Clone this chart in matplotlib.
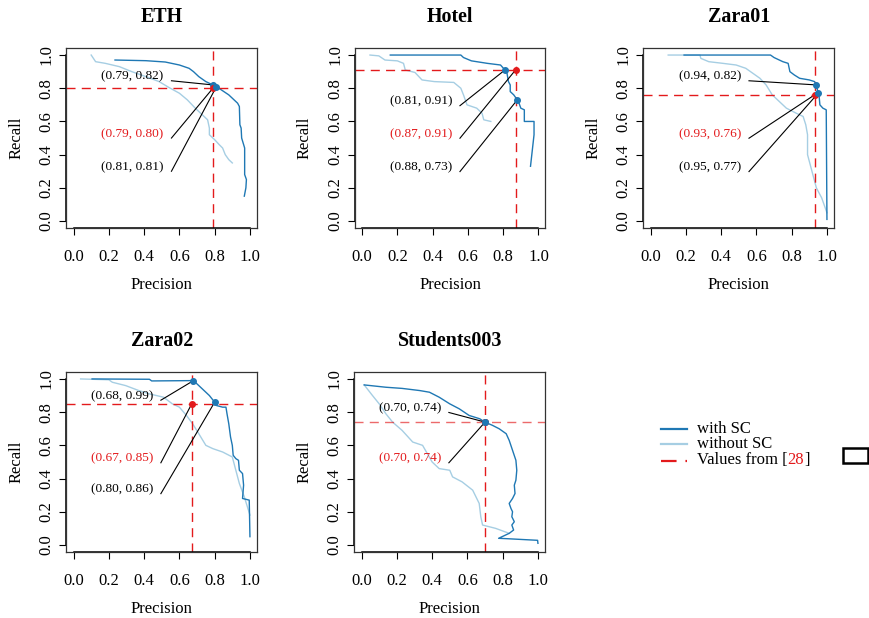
import matplotlib.pyplot as plt
from matplotlib.lines import Line2D
from matplotlib.patches import Rectangle

plt.rcParams['font.family'] = ['Liberation Serif', 'DejaVu Serif']

DARK = '#1f78b4'
LIGHT = '#a6cee3'
RED = '#e31a1c'

# ---- data ----
eth_sc_p = [0.235, 0.41, 0.52, 0.60, 0.655, 0.68, 0.71, 0.75, 0.79, 0.81, 0.845, 0.88, 0.90, 0.93,
            0.94, 0.943, 0.95, 0.953, 0.97, 0.97, 0.98, 0.977, 0.968]
eth_sc_r = [0.97, 0.966, 0.958, 0.94, 0.92, 0.90, 0.87, 0.84, 0.82, 0.81, 0.785, 0.76, 0.74, 0.71,
            0.69, 0.58, 0.56, 0.50, 0.44, 0.28, 0.25, 0.20, 0.15]
eth_no_p = [0.10, 0.125, 0.18, 0.26, 0.33, 0.41, 0.485, 0.54, 0.60, 0.645, 0.69, 0.73, 0.76, 0.77,
            0.77, 0.80, 0.826, 0.845, 0.86, 0.88, 0.90]
eth_no_r = [1.0, 0.96, 0.95, 0.93, 0.90, 0.87, 0.84, 0.805, 0.77, 0.73, 0.68, 0.64, 0.61, 0.56,
            0.52, 0.49, 0.46, 0.44, 0.40, 0.37, 0.35]

hotel_sc_p = [0.16, 0.56, 0.575, 0.62, 0.71, 0.785, 0.81, 0.82, 0.83, 0.84, 0.84, 0.86, 0.88, 0.89,
              0.90, 0.92, 0.92, 0.975, 0.975, 0.955]
hotel_sc_r = [1.0, 1.0, 0.985, 0.965, 0.95, 0.94, 0.91, 0.90, 0.84, 0.82, 0.78, 0.76, 0.73, 0.71,
              0.68, 0.67, 0.60, 0.60, 0.52, 0.33]
hotel_no_p = [0.045, 0.095, 0.13, 0.20, 0.235, 0.245, 0.30, 0.34, 0.41, 0.52, 0.56, 0.575, 0.595,
              0.65, 0.68, 0.69, 0.73]
hotel_no_r = [1.0, 0.995, 0.97, 0.965, 0.95, 0.91, 0.895, 0.85, 0.84, 0.835, 0.80, 0.76, 0.70,
              0.68, 0.65, 0.61, 0.60]

zara1_sc_p = [0.19, 0.68, 0.70, 0.73, 0.75, 0.78, 0.79, 0.815, 0.845, 0.90, 0.93, 0.94, 0.95,
              0.955, 0.96, 0.977, 0.996, 1.0]
zara1_sc_r = [1.0, 1.0, 0.985, 0.97, 0.96, 0.95, 0.90, 0.88, 0.86, 0.85, 0.84, 0.82, 0.77,
              0.76, 0.70, 0.68, 0.67, 0.01]
zara1_no_p = [0.10, 0.28, 0.285, 0.33, 0.41, 0.485, 0.54, 0.58, 0.62, 0.655, 0.69, 0.73, 0.77,
              0.825, 0.865, 0.88, 0.89, 0.89, 0.90, 0.92, 0.94, 0.97, 1.0]
zara1_no_r = [1.0, 1.0, 0.98, 0.96, 0.95, 0.94, 0.92, 0.89, 0.86, 0.82, 0.76, 0.72, 0.68,
              0.65, 0.63, 0.58, 0.52, 0.40, 0.36, 0.28, 0.20, 0.14, 0.05]

zara2_sc_p = [0.105, 0.43, 0.443, 0.68, 0.69, 0.71, 0.73, 0.75, 0.77, 0.80, 0.81, 0.845, 0.864,
              0.87, 0.88, 0.89, 0.90, 0.905, 0.92, 0.935, 0.94, 0.958, 0.964, 0.958, 0.996, 1.0]
zara2_sc_r = [1.0, 0.998, 0.988, 0.99, 0.98, 0.96, 0.94, 0.92, 0.90, 0.86, 0.84, 0.83, 0.83,
              0.79, 0.73, 0.65, 0.60, 0.54, 0.52, 0.51, 0.45, 0.43, 0.36, 0.28, 0.27, 0.05]
zara2_no_p = [0.04, 0.20, 0.22, 0.295, 0.37, 0.43, 0.51, 0.56, 0.60, 0.64, 0.675, 0.71, 0.75,
              0.79, 0.845, 0.90, 0.92, 0.94, 0.968, 1.0]
zara2_no_r = [1.0, 0.995, 0.98, 0.96, 0.93, 0.91, 0.89, 0.85, 0.83, 0.78, 0.73, 0.67, 0.60,
              0.58, 0.56, 0.53, 0.45, 0.37, 0.29, 0.18]

stud_sc_p = [0.015, 0.138, 0.23, 0.33, 0.385, 0.44, 0.50, 0.554, 0.61, 0.67, 0.70, 0.743, 0.78,
             0.82, 0.837, 0.856, 0.875, 0.88, 0.875, 0.866, 0.87, 0.856, 0.837, 0.847, 0.856,
             0.852, 0.866, 0.852, 0.862, 0.837, 0.777, 0.82, 0.998, 1.0]
stud_sc_r = [0.964, 0.95, 0.943, 0.93, 0.92, 0.89, 0.85, 0.82, 0.78, 0.76, 0.74, 0.72, 0.70,
             0.67, 0.63, 0.57, 0.51, 0.45, 0.39, 0.36, 0.31, 0.28, 0.25, 0.22, 0.20,
             0.17, 0.14, 0.12, 0.09, 0.07, 0.04, 0.038, 0.028, 0.01]
stud_no_p = [0.015, 0.062, 0.10, 0.138, 0.176, 0.23, 0.29, 0.346, 0.40, 0.44, 0.50, 0.516, 0.57,
             0.63, 0.667, 0.676, 0.686, 0.76, 0.837]
stud_no_r = [0.964, 0.90, 0.85, 0.79, 0.74, 0.69, 0.62, 0.60, 0.50, 0.46, 0.45, 0.41, 0.38,
             0.33, 0.25, 0.17, 0.12, 0.10, 0.07]

# operating points: (precision, recall, is_reference)
eth_pts = [(0.79, 0.82, False), (0.79, 0.80, True), (0.81, 0.81, False)]
hotel_pts = [(0.81, 0.91, False), (0.87, 0.91, True), (0.88, 0.73, False)]
zara1_pts = [(0.94, 0.82, False), (0.93, 0.76, True), (0.95, 0.77, False)]
zara2_pts = [(0.68, 0.99, False), (0.67, 0.85, True), (0.80, 0.86, False)]
stud_pts = [(0.70, 0.74, False), (0.70, 0.74, True)]

# where the point labels sit (right edge x, centre y for each)
eth_lab = (0.51, [0.87, 0.525, 0.325])
hotel_lab = (0.51, [0.72, 0.524, 0.323])
zara1_lab = (0.513, [0.87, 0.524, 0.323])
zara2_lab = (0.45, [0.897, 0.52, 0.334])
stud_lab = (0.45, [0.823, 0.52])

panels = [
    ('ETH', eth_sc_p, eth_sc_r, eth_no_p, eth_no_r, eth_pts, eth_lab, 66.5, 48.4),
    ('Hotel', hotel_sc_p, hotel_sc_r, hotel_no_p, hotel_no_r, hotel_pts, hotel_lab, 355.0, 48.4),
    ('Zara01', zara1_sc_p, zara1_sc_r, zara1_no_p, zara1_no_r, zara1_pts, zara1_lab, 643.5, 48.4),
    ('Zara02', zara2_sc_p, zara2_sc_r, zara2_no_p, zara2_no_r, zara2_pts, zara2_lab, 66.5, 372.3),
    ('Students003', stud_sc_p, stud_sc_r, stud_no_p, stud_no_r, stud_pts, stud_lab, 354.5, 372.3),
]

W, H = 870, 618
fig = plt.figure(figsize=(8.7, 6.18), dpi=100)


def fx(px):
    return px / W


def fy(py):
    return 1 - py / H


ticks = [0.0, 0.2, 0.4, 0.6, 0.8, 1.0]
dash = (0, (6.5, 4.5))

for name, sp, sr, nop, nor, pts, lab, left, top in panels:
    ax = fig.add_axes([fx(left), fy(top + 179.3), 190.5 / W, 179.3 / H])
    ax.set_xlim(-0.04, 1.04)
    ax.set_ylim(-0.04, 1.04)

    ax.plot(nop, nor, color=LIGHT, lw=1.0)
    ax.plot(sp, sr, color=DARK, lw=1.0)

    ref = [p for p in pts if p[2]][0]
    hl_alpha = 0.65 if name == 'Students003' else 1.0
    ax.axvline(ref[0], color=RED, lw=1.0, ls=dash)
    ax.axhline(ref[1], color=RED, lw=1.0, ls=dash, alpha=hl_alpha)

    lx, lys = lab
    for (p, r, is_ref), ly in zip(pts, lys):
        col = RED if is_ref else 'black'
        ax.plot([lx + 0.045, p], [ly - 0.025, r], color='black', lw=0.8)
        ax.text(lx, ly, f'({p:.2f}, {r:.2f})', ha='right', va='center',
                fontsize=9.6, color=col)
    for p, r, is_ref in pts:
        ax.plot([p], [r], 'o', color=RED if is_ref else DARK, ms=4, zorder=5)
    # draw the blue point over a coincident red one
    for p, r, is_ref in pts:
        if not is_ref and (p, r) == (ref[0], ref[1]):
            ax.plot([p], [r], 'o', color=DARK, ms=4, zorder=6)

    ax.set_title(name, fontsize=14.4, fontweight='bold', pad=19)
    ax.set_xticks(ticks)
    ax.set_yticks(ticks)
    ax.set_xticklabels([f'{t:.1f}' for t in ticks])
    ax.set_yticklabels([f'{t:.1f}' for t in ticks], rotation=90, va='center')
    ax.tick_params(direction='out', length=5, width=0.8, labelsize=12)
    ax.tick_params(axis='x', pad=10.5)
    ax.tick_params(axis='y', pad=3.5)
    for s in ax.spines.values():
        s.set_color('#333333')
        s.set_linewidth(0.9)
    ax.plot([0, 1], [0, 0], transform=ax.get_xaxis_transform(), color='black',
            lw=1.1, clip_on=False)
    ax.plot([0, 0], [0, 1], transform=ax.get_yaxis_transform(), color='black',
            lw=1.1, clip_on=False)

    ax.set_xlabel('Precision', fontsize=12)
    ax.set_ylabel('Recall', fontsize=12)
    ax.xaxis.set_label_coords(0.5, -0.275)
    ax.yaxis.set_label_coords(-0.222, 0.5)

# ---- legend ----
leg_items = [('with SC', DARK, '-'), ('without SC', LIGHT, '-')]
leg_y = [429.0, 443.5]
for (lab, col, ls), y in zip(leg_items, leg_y):
    fig.add_artist(Line2D([fx(661), fx(687)], [fy(y), fy(y)], color=col, lw=1.6,
                          ls=ls, transform=fig.transFigure))
    fig.text(fx(697), fy(y), lab, fontsize=12, va='center')
fig.add_artist(Line2D([fx(661), fx(687)], [fy(460.5), fy(460.5)], color=RED, lw=1.6,
                      ls=(0, (7, 4)), transform=fig.transFigure))
t1 = fig.text(fx(697), fy(460.5), 'Values from [', fontsize=12, va='center')
t2 = ax.annotate('28', xy=(1, 0), xycoords=t1, va='bottom', ha='left',
                 fontsize=12, color=RED, annotation_clip=False)
ax.annotate(']', xy=(1, 0), xycoords=t2, va='bottom', ha='left', fontsize=12,
            annotation_clip=False)

fig.add_artist(Rectangle((fx(843), fy(463)), 25 / W, 15.5 / H, fill=False,
                         lw=1.8, ec='black', transform=fig.transFigure))

fig.savefig('out.png', dpi=100)
